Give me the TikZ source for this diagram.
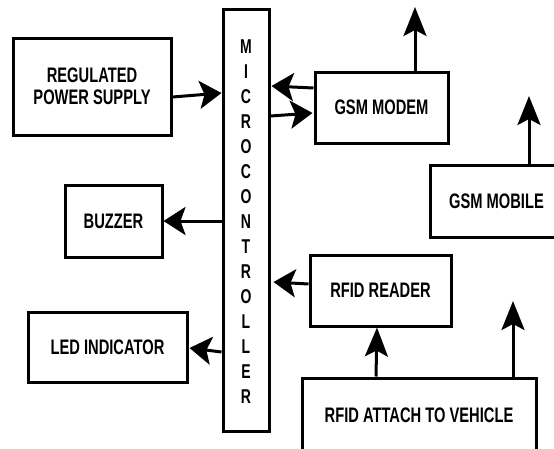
\documentclass[tikz,border=0pt]{standalone}
\usepackage{fontspec}
\setmainfont{Liberation Sans}[FakeStretch=0.70]
\usetikzlibrary{arrows.meta}
\begin{document}
\begin{tikzpicture}[x=1pt,y=-1pt,
  box/.style={draw, line width=3pt, inner sep=0pt, align=center, font=\bfseries\fontsize{21}{22.5}\selectfont},
  harrow/.style={line width=3pt, -{Stealth[length=22pt,width=28pt,inset=5pt]}},
  varrow/.style={line width=3pt, -{Stealth[length=29pt,width=23pt,inset=6pt]}},
  letter/.style={font=\bfseries\fontsize{20}{20}\selectfont, inner sep=0pt}]
\useasboundingbox (0,0) rectangle (554,448);
\clip (0,0) rectangle (554,448);
% microcontroller
\node[box, minimum width=46pt, minimum height=422pt] (mcu) at (246,220) {};
\foreach \l [count=\i from 0] in {M,I,C,R,O,C,O,N,T,R,O,L,L,E,R}
  \node[letter] (m\i) at (246,{47+25*\i}) {\l};
% blocks
\node[box, minimum width=158pt, minimum height=97pt] (rps) at (92,86.5) {REGULATED\\POWER SUPPLY};
\node[box, minimum width=133pt, minimum height=71pt] (modem) at (381.5,107.5) {GSM MODEM};
\node[box, minimum width=133pt, minimum height=72pt] (mobile) at (496.5,201) {GSM MOBILE};
\node[box, minimum width=97pt, minimum height=72pt] (buzzer) at (113.5,221) {BUZZER};
\node[box, minimum width=159pt, minimum height=70pt] (led) at (107.5,347) {LED INDICATOR};
\node[box, minimum width=141pt, minimum height=71pt] (reader) at (380.5,290.5) {RFID READER};
\node[box, minimum width=234pt, minimum height=74pt] (tag) at (419,415) {RFID ATTACH TO VEHICLE};
% free ends
\coordinate (modemup) at (415,7);
\coordinate (mobileup) at (529,96);
\coordinate (tagup) at (513,301);
% connectors
\draw[harrow] (rps.east |- 0,97) -- (mcu.west |- 0,93);
\draw[harrow] (modem.west |- 0,88) -- ([xshift=1pt]mcu.east |- 0,86);
\draw[harrow] (mcu.east |- 0,116) -- ([xshift=-1pt]modem.west |- 0,113);
\draw[varrow] (modemup |- modem.north) -- (modemup);
\draw[varrow] (mobileup |- mobile.north) -- (mobileup);
\draw[harrow] (mcu.west |- buzzer.east) -- (buzzer.east);
\draw[harrow] (mcu.west |- 0,352) -- ([xshift=1pt]led.east |- 0,348);
\draw[harrow] (reader.west |- 0,284) -- ([xshift=3pt]mcu.east |- 0,282);
\draw[varrow] (376,0 |- tag.north) -- (377,0 |- reader.south);
\draw[varrow] (tagup |- tag.north) -- (tagup);
\end{tikzpicture}
\end{document}
